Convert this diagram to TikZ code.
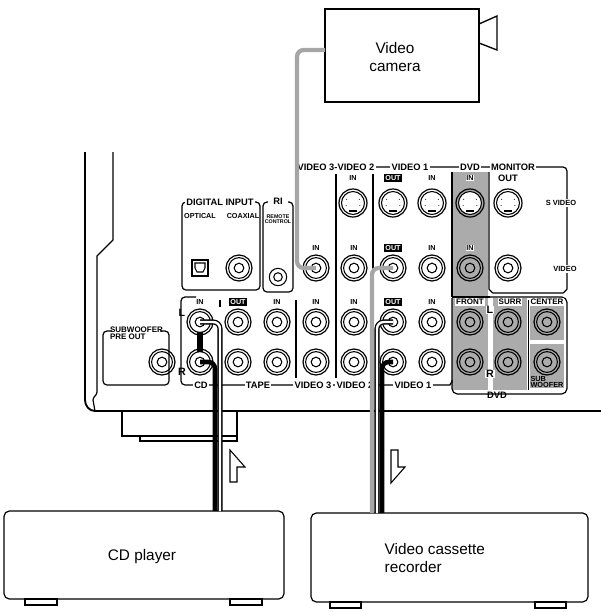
\documentclass[tikz,border=0pt]{standalone}
\usepackage{fontspec}
\setmainfont{Liberation Sans}
\begin{document}
\begin{tikzpicture}[x=0.75pt,y=-0.75pt,
  jack/.style={circle,draw,line width=0.9pt,minimum size=19.5pt,inner sep=0pt},
  sjack/.style={circle,draw,line width=0.9pt,minimum size=21pt,inner sep=0pt},
  lab/.style={font=\fontsize{5.4}{5}\selectfont\bfseries,inner sep=0.6pt},
  blab/.style={font=\fontsize{5.4}{5}\selectfont\bfseries,fill=black,text=white,inner sep=0.8pt},
  big/.style={font=\fontsize{7}{7}\selectfont\bfseries,fill=white,inner sep=1pt},
  dev/.style={draw,line width=0.9pt,rounded corners=4pt},
  ttl/.style={font=\fontsize{11.5}{14}\selectfont},
  outline/.style={line width=0.9pt}]
\useasboundingbox (0,0) rectangle (601,612);
\newcommand\rca[2]{\node[jack] (#1) at (#2) {};\draw[line width=0.8pt] (#1.center) circle (7.8pt);\draw[line width=0.8pt] (#1.center) circle (3.6pt);}
\newcommand\svid[2]{\node[sjack] (#1) at (#2) {};\draw[line width=0.8pt,fill=white] (#1.center) circle (8.6pt);
  \fill ([xshift=-3pt,yshift=-7pt]#1.center) rectangle ([xshift=3pt,yshift=-5pt]#1.center);
  \foreach \a in {30,150,200,340} \fill ([shift={(\a:5.5pt)}]#1.center) circle (0.4pt);}
% gray areas
\fill[black!33] (452,172) rectangle (488,297);
\fill[black!33] (452,298) rectangle (488,390);
\fill[black!33] (493,298) rectangle (527,390);
\fill[black!33] (530,301) rectangle (564,340);
\fill[black!33] (530,344) rectangle (564,388);
\draw[line width=0.7pt] (528,300) -- (528,390);
% chassis
\draw[line width=1.4pt] (85,152) -- (85,400) to[out=-90,in=180] (95,411) -- (601,411);
\draw[outline] (113,152) -- (113,240) -- (97,256) -- (97,392) to[out=-90,in=90] (93,400) -- (95,411);
\draw[line width=1pt] (122,411) -- (122,436) -- (237,436) -- (237,411);
\draw[line width=1pt] (140,436) -- (140,441) -- (237,441) -- (237,436);
% subwoofer box
\draw[outline,rounded corners=3pt] (112,331) -- (103,331) -- (103,385) -- (169,385) -- (169,331) -- (160,331);
\node[lab,anchor=north west,align=left,font=\fontsize{6}{5.5}\selectfont\bfseries] (swl) at (109,326) {SUBWOOFER\\PRE OUT};
\rca{sw}{162,362}
% digital input & RI boxes
\draw[outline,rounded corners=3pt] (188,202) -- (182,202) -- (182,290) -- (260,290) -- (260,202) -- (252,202);
\node[big] (dig) at (220,202) {DIGITAL INPUT};
\draw[outline,rounded corners=3pt] (268,202) -- (263,202) -- (263,292) -- (293,292) -- (293,202) -- (288,202);
\node[big] (ri) at (278,201) {RI};
\node[lab] (opt) at (200,216) {OPTICAL};
\node[lab] (coax) at (243,216) {COAXIAL};
\node[lab,align=center,font=\fontsize{4}{4}\selectfont\bfseries] (rc) at (278,219) {REMOTE\\CONTROL};
\node[draw,outline,minimum size=12pt,inner sep=0pt] (opsq) at (200,268) {};
\draw[line width=0.8pt] (195,263) -- (205,263) -- (205,268) -- (203,272) -- (197,272) -- (195,268) -- cycle;
\rca{coaxj}{239,268}
\node[circle,draw,line width=0.8pt,minimum size=13pt,inner sep=0pt] (rmj) at (278,277) {};
\draw[line width=0.8pt] (rmj.center) circle (3.2pt);
% top label line and monitor box
\draw[outline,rounded corners=3pt] (372,167) -- (567,167) -- (567,285) to[out=-90,in=0] (559,293) -- (497,293) to[out=180,in=-90] (489,285) -- (489,172);
\draw[line width=0.8pt] (452,172) -- (452,297);
\node[big] (tv32) at (336,167) {VIDEO 3-VIDEO 2};
\node[big] (tv1) at (410,167) {VIDEO 1};
\node[big] (tdvd) at (470,167) {DVD};
\node[big] (tmon) at (513,167) {MONITOR};
\node[big,font=\fontsize{5.6}{5}\selectfont\bfseries] (sv) at (561,203) {S VIDEO};
\node[big,font=\fontsize{5.6}{5}\selectfont\bfseries] (vv) at (565,269) {VIDEO};
% dividers
\draw[line width=0.8pt] (336,174) -- (336,378);
\draw[line width=0.8pt] (373,174) -- (373,290);
\draw[line width=0.8pt] (373,300) -- (373,378);
\draw[line width=0.8pt] (296,300) -- (296,378);
\draw[line width=0.8pt] (220,300) -- (220,307);
% s-video row
\node[lab] at (353,178) {IN};
\node[blab] at (393,178) {OUT};
\node[lab] at (432,178) {IN};
\node[lab,fill=white] at (470,178) {IN};
\node[lab,font=\fontsize{7}{6}\selectfont\bfseries] at (508,178) {OUT};
\svid{s2}{353,203}\svid{s1o}{393,203}\svid{s1i}{432,203}\svid{sd}{470,203}\svid{sm}{508,203}
% video row
\node[lab] at (316,248) {IN};
\node[lab] at (354,248) {IN};
\node[blab] at (393,248) {OUT};
\node[lab] at (432,248) {IN};
\node[lab,fill=white] at (470,248) {IN};
\rca{v3}{316,268}\rca{v2}{354,268}\rca{v1o}{393,268}\rca{v1i}{432,268}\rca{vd}{470,268}\rca{vm}{508,268}
% lower main box
\draw[outline,rounded corners=3pt] (196,297) -- (181,297) -- (181,385) -- (446,385) to[out=0,in=-90] (452,378) -- (452,298);
\node[big] (lcd) at (201,385) {CD};
\node[big] (ltape) at (258,385) {TAPE};
\node[big] (lv3) at (313,385) {VIDEO 3};
\node[big] (lv2) at (355,385) {VIDEO 2};
\node[big] (lv1) at (413,385) {VIDEO 1};
% DVD box
\draw[outline,rounded corners=4pt] (452,380) -- (452,394) -- (567,394) -- (567,297) -- (490,297);
\draw[outline] (452,297) -- (490,297);
\node[big,fill=none] (ldvd) at (497,395) {DVD};
% L/R row labels
\node[lab] at (200,302) {IN};
\node[blab] at (238,302) {OUT};
\node[lab] at (277,302) {IN};
\node[lab] at (316,302) {IN};
\node[lab] at (354,302) {IN};
\node[blab] at (393,302) {OUT};
\node[lab] at (432,302) {IN};
\node[lab,fill=white,font=\fontsize{6}{5}\selectfont\bfseries] at (470,302) {FRONT};
\node[lab,fill=white,font=\fontsize{6}{5}\selectfont\bfseries] at (510,302) {SURR};
\node[lab,fill=white,font=\fontsize{6}{5}\selectfont\bfseries] at (547,302) {CENTER};
\node[lab,align=left,font=\fontsize{5.5}{4.8}\selectfont\bfseries] at (547,382) {SUB\\WOOFER};
\node[big,fill=none,font=\fontsize{8}{7}\selectfont\bfseries] at (182,313) {L};
\node[big,fill=none,font=\fontsize{8}{7}\selectfont\bfseries] at (182,372) {R};
\node[big,font=\fontsize{8}{7}\selectfont\bfseries,inner sep=0.5pt] at (490,310) {L};
\node[big,font=\fontsize{8}{7}\selectfont\bfseries,inner sep=0.5pt] at (490,374) {R};
\foreach \n/\x in {cdL/200,tpoL/238,tpiL/277,v3L/316,v2L/354,v1oL/393,v1iL/432,frL/470,suL/508,ceL/547} {\rca{\n}{\x,322}}
\foreach \n/\x in {cdR/200,tpoR/238,tpiR/277,v3R/316,v2R/354,v1oR/393,v1iR/432,frR/470,suR/508,swR/547} {\rca{\n}{\x,362}}
\fill[black] (197,332) rectangle (203,352);
% devices
\node[draw,line width=1pt,minimum width=115.5pt,minimum height=69.75pt] (cam) at (402,55.5) {};
\node[ttl,align=center] at (395,57) {Video\\camera};
\draw[line width=1pt] (479,24) -- (497,16) -- (497,50) -- (479,43);
\node[dev,minimum width=210pt,minimum height=66pt] (cdp) at (144,555) {};
\node[ttl] at (142,557) {CD player};
\foreach \x in {25,230} \draw[line width=0.9pt] (\x,599) rectangle ++(32,6);
\node[dev,minimum width=207.75pt,minimum height=66.75pt] (vcr) at (449.5,557.5) {};
\node[ttl,align=left,anchor=west] at (380,558) {Video cassette\\recorder};
\foreach \x in {330,535} \draw[line width=0.9pt] (\x,602) rectangle ++(31,6);
% cables
\coordinate (camc) at (325,50);
\coordinate (cdA) at (220,511);
\coordinate (cdB) at (215,511);
\coordinate (vcA) at (372,513);
\coordinate (vcB) at (377,513);
\coordinate (vcC) at (382,513);
\draw[black!35,line width=3.2pt,rounded corners=5pt] (camc) -- (297,50) -- (297,268) -- (v3.center);
\draw[black!35,line width=3.2pt,rounded corners=5pt] (v1o.center) -- (372,268) -- (vcA);
\draw[line width=3.8pt,rounded corners=5pt] (cdL.center) -- (220,322) -- (cdA);
\draw[white,line width=1.8pt,rounded corners=5pt] (cdL.center) -- (220,322) -- (cdA);
\draw[line width=3.4pt,rounded corners=5pt] (cdR.center) -- (215,362) -- (cdB);
\draw[line width=3.8pt,rounded corners=5pt] (v1oL.center) -- (377,322) -- (vcB);
\draw[white,line width=1.8pt,rounded corners=5pt] (v1oL.center) -- (377,322) -- (vcB);
\draw[line width=3.4pt,rounded corners=5pt] (v1oR.center) -- (382,362) -- (vcC);
% flow arrows
\draw[line width=0.8pt,fill=white] (230,482) -- (230,450) -- (245,467) -- (237,467) -- (237,482) -- cycle;
\draw[line width=0.8pt,fill=white] (391,450) -- (391,483) -- (405,467) -- (398,467) -- (398,450) -- cycle;
\end{tikzpicture}
\end{document}
